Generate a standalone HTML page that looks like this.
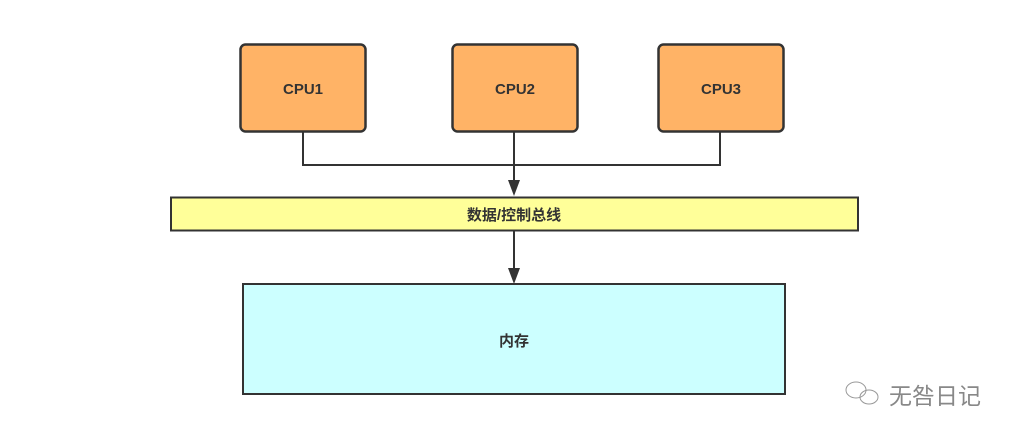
<!DOCTYPE html>
<html><head><meta charset="utf-8"><style>
body{margin:0;background:#fff;width:1023px;height:440px;overflow:hidden;font-family:"Liberation Sans","Noto Sans CJK SC",sans-serif}
</style></head><body>
<svg width="1023" height="440" xmlns="http://www.w3.org/2000/svg" font-family="Liberation Sans, Noto Sans CJK SC, sans-serif">
<g stroke="#333" stroke-width="2.5" fill="#FFB366">
<rect x="240.5" y="44.5" width="125" height="87" rx="5"/>
<rect x="452.5" y="44.5" width="125" height="87" rx="5"/>
<rect x="658.5" y="44.5" width="125" height="87" rx="5"/>
</g>
<g stroke="#333" stroke-width="2" fill="none">
<path d="M303 132 V165 H720 V132"/>
<path d="M514 132 V182"/>
<path d="M514 231 V270"/>
</g>
<path d="M508 180 L520 180 L514 196 Z" fill="#333"/>
<path d="M508 268 L520 268 L514 284 Z" fill="#333"/>
<rect x="171" y="197.5" width="687" height="33" fill="#FFFF99" stroke="#333" stroke-width="2"/>
<rect x="243" y="284" width="542" height="110" fill="#CCFFFF" stroke="#333" stroke-width="2"/>
<g fill="#333" font-weight="bold" font-size="15" text-anchor="middle">
<text x="303" y="94">CPU1</text>
<text x="515" y="94">CPU2</text>
<text x="721" y="94">CPU3</text>
<text x="514" y="220">数据/控制总线</text>
<text x="514" y="346">内存</text>
</g>
<g fill="none" stroke="#999" stroke-width="1">
<ellipse cx="856" cy="390" rx="10" ry="8"/>
<ellipse cx="869" cy="397" rx="9" ry="7"/>
</g>
<text x="889" y="404" font-size="23" fill="#888">无咎日记</text>
</svg>
</body></html>
